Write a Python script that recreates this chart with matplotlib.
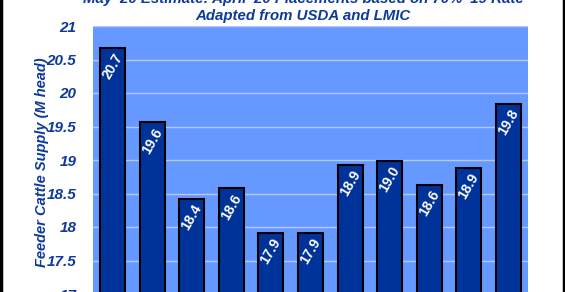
import matplotlib
matplotlib.use("Agg")
from matplotlib import pyplot as plt

# May 1 feeder cattle supply, million head
years = ["2010", "2011", "2012", "2013", "2014", "2015", "2016", "2017", "2018", "2019", "2020"]
supply = [20.67, 19.56, 18.42, 18.58, 17.91, 17.91, 18.93, 18.99, 18.63, 18.88, 19.84]
yticks = [17, 17.5, 18, 18.5, 19, 19.5, 20, 20.5, 21]

navy = "#003399"
txt = "#0D3A9C"

plt.rcParams["font.family"] = ["Liberation Sans", "DejaVu Sans"]

fig = plt.figure(figsize=(5.65, 2.92), dpi=100)
ax = fig.add_axes([93/565, -2/292, 435/565, 268/292])
ax.set_facecolor("#6699FF")

x = range(len(years))
ax.bar(x, supply, width=0.63, color=navy, edgecolor="black", linewidth=1.5, zorder=3)
for i, v in zip(x, supply):
    ax.text(i, v - 0.05, "%.1f" % v, rotation=60, ha="center", va="top",
            color="white", fontsize=10, fontweight="bold", zorder=4)

ax.set_ylim(17, 21)
ax.set_xlim(-0.5, len(years) - 0.5)
ax.set_yticks(yticks)
ax.set_yticklabels(["%g" % t for t in yticks], color=txt, fontsize=11,
                   fontweight="bold", style="italic")
ax.tick_params(axis="y", length=0, pad=12)
# year labels sit below the visible crop
ax.set_xticks(list(x))
ax.set_xticklabels([])
ax.tick_params(axis="x", length=0)
ax.yaxis.grid(True, color="#B8C8FF", linewidth=1, zorder=0)
for s in ax.spines.values():
    s.set_visible(False)

fig.text(42/565, 1 - 162/292, "Feeder Cattle Supply (M head)", rotation=90,
         ha="center", va="center", color=txt, fontsize=10.5,
         fontweight="bold", style="italic")

fig.text(303/565, 1 + 1/292, "May '20 Estimate: April '20 Placements based on 70% '19 Rate",
         ha="center", va="center", color=txt, fontsize=10.8, fontweight="bold", style="italic")
fig.text(303/565, 1 - 16/292, "Adapted from USDA and LMIC", ha="center", va="center",
         color=txt, fontsize=10.8, fontweight="bold", style="italic")

# black frame edges on the left and right
fig.add_artist(plt.Line2D([1/565, 1/565], [0, 1], color="black", linewidth=2.5))
fig.add_artist(plt.Line2D([563.5/565, 563.5/565], [0, 1], color="black", linewidth=2.5))

plt.savefig("out.png", dpi=100)
